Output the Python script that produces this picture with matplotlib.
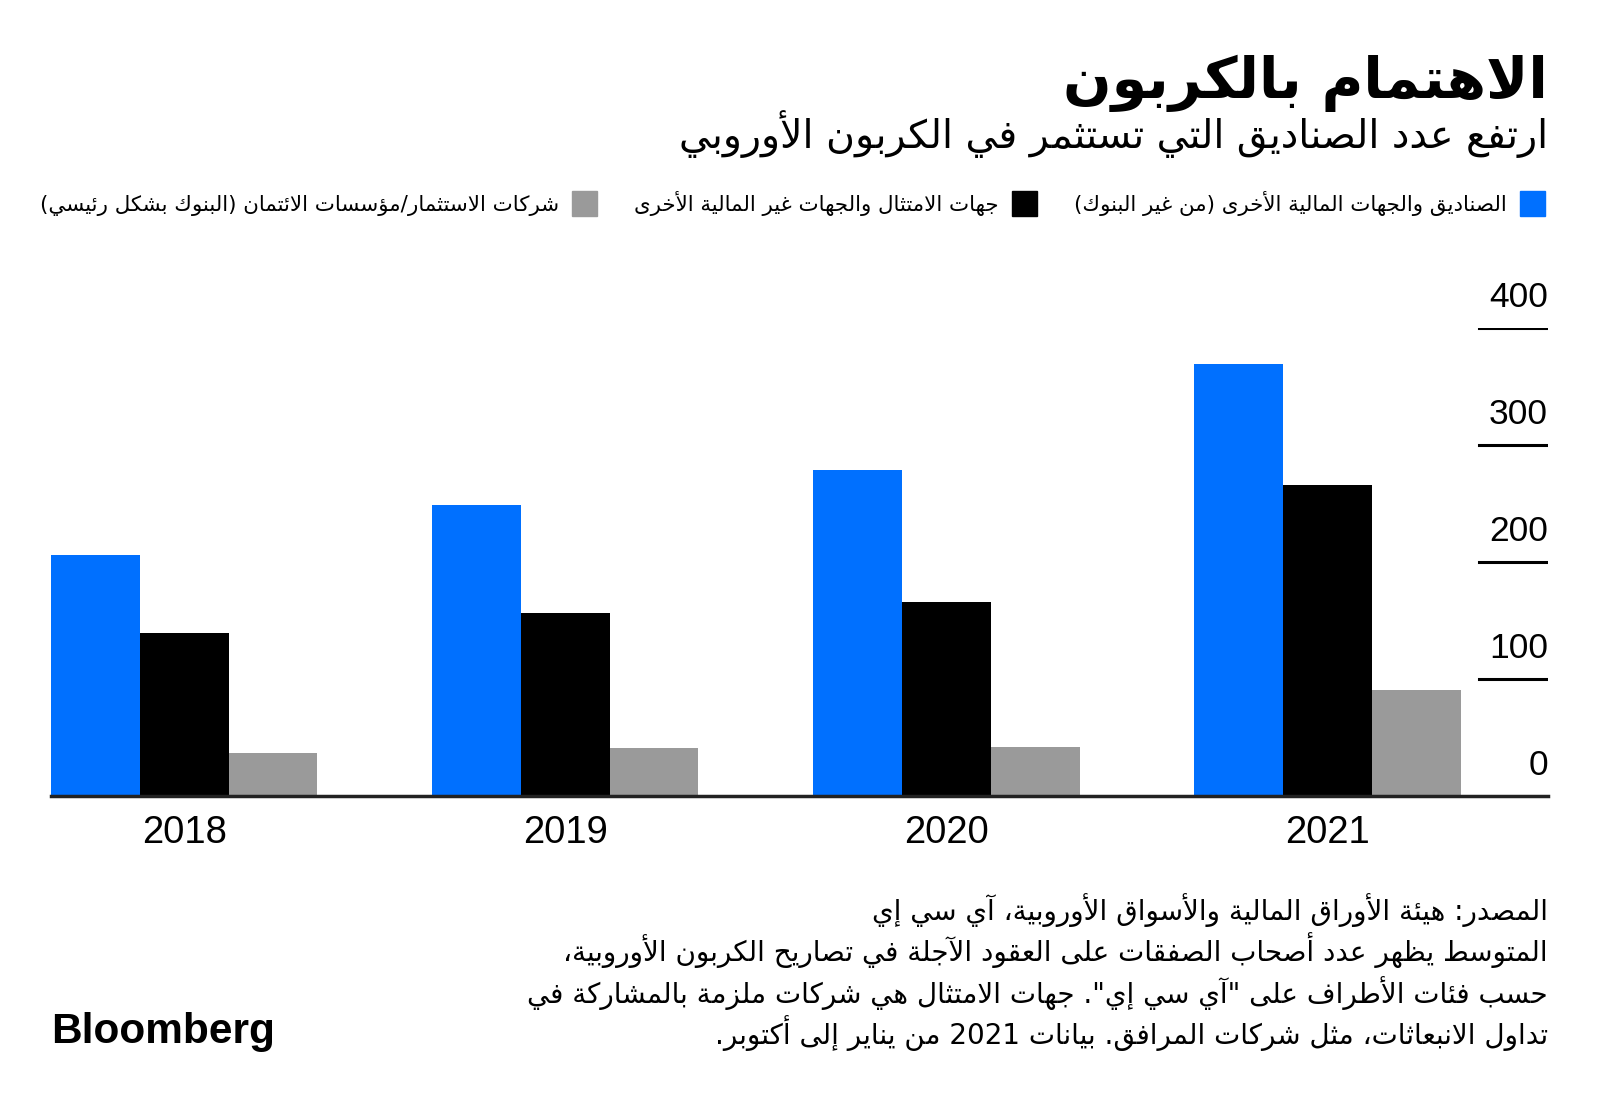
import re
import matplotlib
matplotlib.use('Agg')
import matplotlib.pyplot as plt
import matplotlib.transforms as mtransforms
from matplotlib.patches import Rectangle


years = ['2018', '2019', '2020', '2021']
funds = [206, 249, 279, 369]          # الصناديق والجهات المالية الأخرى
compliance = [139, 156, 166, 266]     # جهات الامتثال
banks = [37, 41, 42, 91]              # شركات الاستثمار/مؤسسات الائتمان
y_ticks = [0, 100, 200, 300, 400]

title = 'الاهتمام بالكربون'
subtitle = 'ارتفع عدد الصناديق التي تستثمر في الكربون الأوروبي'
legend_labels = ['الصناديق والجهات المالية الأخرى (من غير البنوك)',
                 'جهات الامتثال والجهات غير المالية الأخرى',
                 'شركات الاستثمار/مؤسسات الائتمان (البنوك بشكل رئيسي)']
colors = ['#0070ff', '#000000', '#9a9a9a']
footer = ['المصدر: هيئة الأوراق المالية والأسواق الأوروبية، آي سي إي',
          'المتوسط يظهر عدد أصحاب الصفقات على العقود الآجلة في تصاريح الكربون الأوروبية،',
          'حسب فئات الأطراف على "آي سي إي". جهات الامتثال هي شركات ملزمة بالمشاركة في',
          'تداول الانبعاثات، مثل شركات المرافق. بيانات 2021 من يناير إلى أكتوبر.']

# matplotlib 3.10 has no Arabic shaping, so join letters with presentation forms
_seq = [('ء', 1), ('آ', 2), ('أ', 2), ('ؤ', 2), ('إ', 2), ('ئ', 4), ('ا', 2),
        ('ب', 4), ('ة', 2), ('ت', 4), ('ث', 4), ('ج', 4), ('ح', 4), ('خ', 4),
        ('د', 2), ('ذ', 2), ('ر', 2), ('ز', 2), ('س', 4), ('ش', 4), ('ص', 4),
        ('ض', 4), ('ط', 4), ('ظ', 4), ('ع', 4), ('غ', 4), ('ف', 4), ('ق', 4),
        ('ك', 4), ('ل', 4), ('م', 4), ('ن', 4), ('ه', 4), ('و', 2), ('ى', 2),
        ('ي', 4)]
FORMS = {}
code = 0xFE80
for ch, n in _seq:
    FORMS[ch] = (code, n)
    code += n
LAM_ALEF = {'آ': 0xFEF5, 'أ': 0xFEF7, 'إ': 0xFEF9, 'ا': 0xFEFB}


def shape(s):
    units = []
    i = 0
    while i < len(s):
        if s[i] == 'ل' and i + 1 < len(s) and s[i + 1] in LAM_ALEF:
            units.append(('LA', s[i + 1]))
            i += 2
        else:
            units.append(s[i])
            i += 1

    def dual(u):
        return isinstance(u, str) and u in FORMS and FORMS[u][1] == 4

    def letter(u):
        return isinstance(u, tuple) or u in FORMS

    out = []
    for k, u in enumerate(units):
        prev_j = k > 0 and dual(units[k - 1])
        if isinstance(u, tuple):
            out.append(chr(LAM_ALEF[u[1]] + (1 if prev_j else 0)))
            continue
        if u not in FORMS:
            out.append(u)
            continue
        base, n = FORMS[u]
        next_j = n == 4 and k + 1 < len(units) and letter(units[k + 1])
        if n == 1:
            out.append(chr(base))
        elif n == 2:
            out.append(chr(base + (1 if prev_j else 0)))
        else:
            if prev_j and next_j:
                out.append(chr(base + 3))
            elif next_j:
                out.append(chr(base + 2))
            elif prev_j:
                out.append(chr(base + 1))
            else:
                out.append(chr(base))
    return ''.join(out)


def ar(s):
    s = shape(s)
    parts = re.split(r'([0-9A-Za-z]+)', s)
    mirror = {'(': ')', ')': '('}
    vis = []
    for p in reversed(parts):
        if re.fullmatch(r'[0-9A-Za-z]+', p):
            vis.append(p)
        else:
            vis.append(''.join(mirror.get(c, c) for c in reversed(p)))
    return ''.join(vis)


plt.rcParams['font.family'] = ['DejaVu Sans']
W, H = 1600, 1107
fig = plt.figure(figsize=(16, 11.07), dpi=100)


def fx(px):
    return px / W


def fy(py):
    return 1 - py / H


# 标题和副标题
fig.text(fx(1548), fy(98), ar(title), ha='right', va='baseline',
         fontsize=41, fontweight='bold')
fig.text(fx(1548), fy(148), ar(subtitle), ha='right', va='baseline',
         fontsize=28.4)

# 图例
sq_right = [1545, 1037, 597]
for lab, c, xr in zip(legend_labels, colors, sq_right):
    fig.patches.append(Rectangle((fx(xr - 25), fy(216)), 25 / W, 25 / H,
                                 transform=fig.transFigure, color=c))
    fig.text(fx(xr - 38), fy(211), ar(lab), ha='right', va='baseline',
             fontsize=15.4)

# 柱状图
ax = fig.add_axes([fx(51), fy(796), fx(1548) - fx(51), fy(328) - fy(796)])
pitch = 4.293
centers = [i * pitch for i in range(len(years))]
ax.bar([c - 1 for c in centers], funds, width=1, color=colors[0])
ax.bar(centers, compliance, width=1, color=colors[1])
ax.bar([c + 1 for c in centers], banks, width=1, color=colors[2])
ax.set_xlim(-1.5, -1.5 + 1497 / 88.78)
ax.set_ylim(0, 400)

for s in ax.spines.values():
    s.set_visible(False)
ax.set_yticks([])
ax.set_xticks(centers)
ax.set_xticklabels(years, fontsize=27.5, family='Liberation Sans')
ax.tick_params(axis='x', length=0, pad=14)

ax.axhline(0, color='#222222', lw=2.5, clip_on=False)
trans = mtransforms.offset_copy(ax.get_yaxis_transform(), fig=fig,
                                y=21, units='dots')
for v in y_ticks:
    if v > 0:
        ax.axhline(v, xmin=0.954, xmax=1, color='black', lw=2.2)
    ax.text(1.0, v, str(v), transform=trans, ha='right', va='baseline',
            fontsize=25.5, family='Liberation Sans', clip_on=False)

# 注释
for i, line in enumerate(footer):
    fig.text(fx(1548), fy(920 + i * 41.3), ar(line), ha='right',
             va='baseline', fontsize=20)

fig.text(fx(51), fy(1043), 'Bloomberg', ha='left', va='baseline',
         fontsize=30.5, fontweight='bold', family='Liberation Sans')

plt.savefig('out.png', dpi=100)
